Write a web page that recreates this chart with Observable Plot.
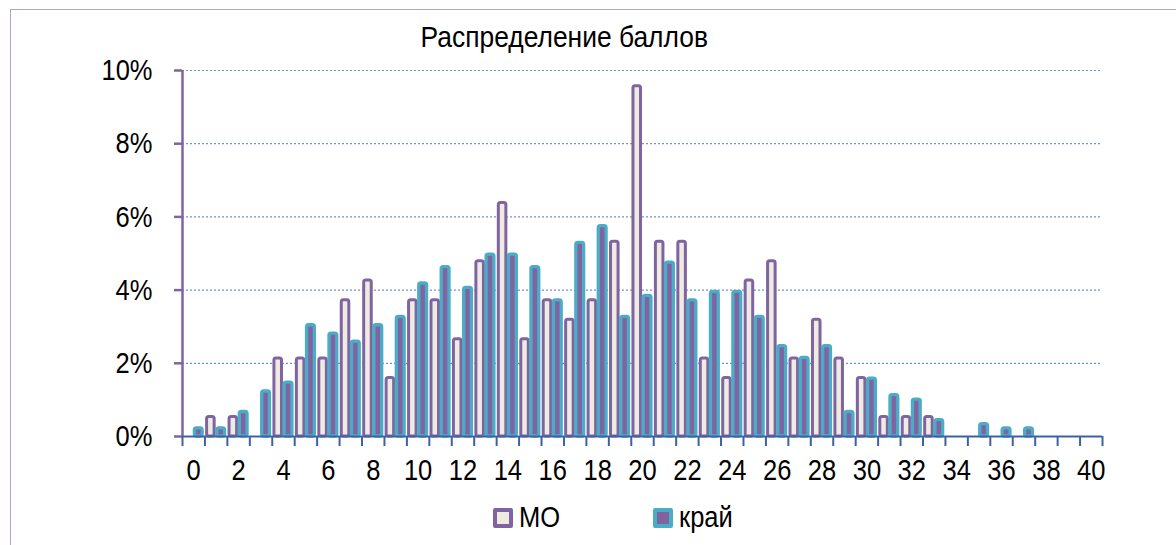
<!DOCTYPE html>
<html>
<head>
<meta charset="utf-8">
<script src="https://cdn.jsdelivr.net/npm/d3@7"></script>
<script src="https://cdn.jsdelivr.net/npm/@observablehq/plot@0.6"></script>
<style>
  html, body { margin: 0; padding: 0; background: #fff; }
  #wrap { position: relative; width: 1176px; height: 545px; overflow: hidden; font-family: "Liberation Sans Narrow", "Arial Narrow", "Liberation Sans", sans-serif; }
  #frame { position: absolute; left: 10px; top: 9px; width: 1300px; height: 700px; border-left: 1.5px solid #b3a0cf; border-top: 1.5px solid #b3a0cf; }
  #title { position: absolute; left: 0; width: 1128px; top: 20px; text-align: center; font-size: 30px; color: #000; }
  #title span { display: inline-block; transform: scaleX(0.88); }
  #chart { position: absolute; left: 0; top: 0; }
  .leg { position: absolute; top: 501px; display: flex; align-items: center; font-size: 29px; color: #000; }
  .leg span { display: inline-block; transform: scaleX(0.88); transform-origin: left center; }
  .sw { box-sizing: border-box; width: 20px; height: 20px; border-radius: 2px; margin-right: 6px; }
</style>
</head>
<body>
<div id="wrap">
  <div id="frame"></div>
  <div id="chart"></div>
  <div id="title"><span>Распределение баллов</span></div>
  <div class="leg" style="left:493px"><div class="sw" style="border:4px solid #8064a2;background:#eeece1"></div><span>МО</span></div>
  <div class="leg" style="left:653px"><div class="sw" style="border:4px solid #4bacc6;background:#8064a2"></div><span>край</span></div>
</div>
<script>
// Scores (categories)
const scores = d3.range(0, 41);
// Series values, percent
const moValues = [0, 0.53, 0.53, 0, 2.13, 2.13, 2.13, 3.72, 4.26, 1.60,
  3.72, 3.72, 2.66, 4.79, 6.38, 2.66, 3.72, 3.19, 3.72, 5.32,
  9.57, 5.32, 5.32, 2.13, 1.60, 4.26, 4.79, 2.13, 3.19, 2.13,
  1.60, 0.53, 0.53, 0.53, 0, 0, 0, 0, 0, 0, 0];
const krayValues = [0.22, 0.22, 0.67, 1.23, 1.47, 3.04, 2.81, 2.59, 3.04, 3.27,
  4.18, 4.63, 4.06, 4.97, 4.97, 4.63, 3.72, 5.29, 5.75, 3.27,
  3.84, 4.75, 3.72, 3.95, 3.95, 3.27, 2.47, 2.15, 2.47, 0.67,
  1.58, 1.13, 1.01, 0.45, 0, 0.34, 0.22, 0.22, 0, 0, 0];
const seriesNames = ["МО", "край"];
const yTicks = [0, 0.02, 0.04, 0.06, 0.08, 0.10];
const xTickLabels = d3.range(0, 41, 2);

const purple = "#8064a2", teal = "#4bacc6", cream = "#eeece1", axisBlue = "#3d62a3", gridBlue = "#6f95cf";

const moRows = scores.map((s, i) => ({score: s, value: moValues[i] / 100, series: seriesNames[0]})).filter(d => d.value > 0);
const krayRows = scores.map((s, i) => ({score: s, value: krayValues[i] / 100, series: seriesNames[1]})).filter(d => d.value > 0);
const xDomain = [scores[0] - 0.5, scores[scores.length - 1] + 0.5];
const boundaries = d3.range(xDomain[0], xDomain[1] + 0.01, 1);

const chart = Plot.plot({
  width: 1176,
  height: 490,
  marginLeft: 182,
  marginRight: 74,
  marginTop: 70,
  marginBottom: 54,
  style: {fontFamily: '"Liberation Sans Narrow", "Arial Narrow", "Liberation Sans", sans-serif', background: "transparent", overflow: "visible"},
  x: {type: "linear", domain: xDomain},
  y: {domain: [0, 0.10]},
  marks: [
    Plot.gridY(yTicks.filter(v => v > 0), {stroke: gridBlue, strokeOpacity: 1, strokeWidth: 1.2, strokeDasharray: "2,2"}),
    Plot.rectY(moRows, {x1: d => d.score - 0.47, x2: d => d.score, y1: d => 0, y2: "value",
      fill: cream, stroke: purple, strokeWidth: 3, insetLeft: 1.5, insetRight: 1.5, rx: 2}),
    Plot.rectY(krayRows, {x1: d => d.score - 0.02, x2: d => d.score + 0.47, y1: d => 0, y2: "value",
      fill: purple, stroke: teal, strokeWidth: 3.3, insetLeft: 1.6, insetRight: 1.6, rx: 2}),
    Plot.axisY({ticks: yTicks, tickFormat: d3.format(".0%"), tickSize: 8, tickPadding: 22, stroke: purple, strokeWidth: 2.5, fill: "#000", fontSize: 30, label: null}),
    Plot.ruleX([xDomain[0]], {stroke: purple, strokeWidth: 2.5}),
    Plot.axisX({ticks: boundaries, tickFormat: () => "", tickSize: 10, stroke: axisBlue, strokeWidth: 2, label: null}),
    Plot.axisX({ticks: xTickLabels, tickFormat: d3.format("d"), tickSize: 0, tickPadding: 22, fill: "#000", fontSize: 30, label: null}),
    Plot.ruleY([0], {stroke: axisBlue, strokeWidth: 2})
  ]
});
document.getElementById("chart").appendChild(chart);
// condense the glyphs to match the narrow face of the original
chart.querySelectorAll("text").forEach(t => {
  if (!t.textContent) return;
  const L = t.getComputedTextLength();
  if (L > 0) {
    t.setAttribute("textLength", (L * 0.85).toFixed(1));
    t.setAttribute("lengthAdjust", "spacingAndGlyphs");
  }
});
</script>
</body>
</html>
